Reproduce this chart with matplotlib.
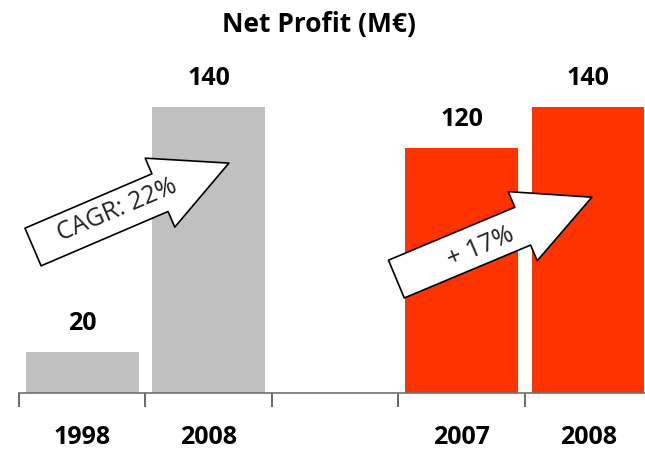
import matplotlib
matplotlib.use("Agg")
import matplotlib.pyplot as plt

plt.rcParams['font.family'] = ['Open Sans', 'DejaVu Sans']

labels = ["1998", "2008", "", "2007", "2008"]
values = [20, 140, None, 120, 140]
colors = ["#c0c0c0", "#c0c0c0", None, "#ff3300", "#ff3300"]
cagr_text = "CAGR: 22%"
growth_text = "+ 17%"

fig = plt.figure(figsize=(6.45, 4.53), dpi=100)
ax = fig.add_axes([19 / 645, 60 / 453, 626 / 645, 343 / 453])

for i, (v, c) in enumerate(zip(values, colors)):
    if v is None:
        continue
    ax.bar(i, v, width=0.89, color=c, zorder=2)
    ax.text(i, v + 8, str(v), ha="center", va="bottom",
            fontsize=18, fontweight="bold")

ax.set_xlim(-0.5, 4.45)
ax.set_ylim(0, 168)

for s in ["top", "right", "left"]:
    ax.spines[s].set_visible(False)
ax.spines["bottom"].set_color("#707070")
ax.spines["bottom"].set_linewidth(1.2)
ax.set_yticks([])

ax.set_xticks([-0.5, 0.5, 1.5, 2.5, 3.5])
ax.set_xticklabels([])
ax.tick_params(axis="x", which="major", direction="out", length=10,
               width=1.1, color="#404040")
ax.set_xticks(range(len(labels)), minor=True)
ax.set_xticklabels(labels, minor=True, fontsize=18, fontweight="bold")
ax.tick_params(axis="x", which="minor", length=0, pad=23)

# growth arrows
arrow = dict(arrowstyle="simple,head_length=54,head_width=54,tail_width=29.5",
             mutation_scale=1, fc="white", ec="black", lw=1.2,
             shrinkA=0, shrinkB=0)
ax.annotate("", xy=(1.16, 112.6), xytext=(-0.389, 71.5),
            arrowprops=arrow, zorder=3)
ax.annotate("", xy=(4.03, 95.9), xytext=(2.484, 55.8),
            arrowprops=arrow, zorder=3)
ax.text(0.28, 89.5, cagr_text, rotation=23, ha="center", va="center",
        fontsize=18, rotation_mode="anchor", zorder=4, color="#222222")
ax.text(3.15, 71.5, growth_text, rotation=23, ha="center", va="center",
        fontsize=18, rotation_mode="anchor", zorder=4, color="#222222")

fig.text(0.495, 0.945, "Net Profit (M€)", ha="center", va="center",
         fontsize=19, fontweight="bold")

fig.savefig("out.png", dpi=100)
